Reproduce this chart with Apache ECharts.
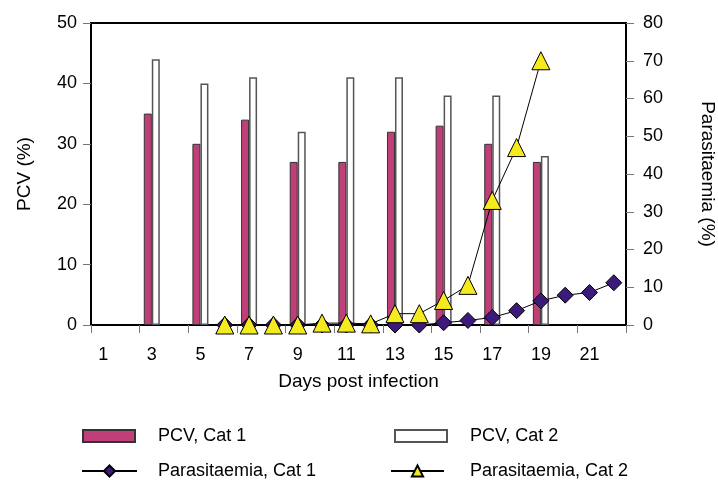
<!DOCTYPE html>
<html>
<head>
<meta charset="utf-8">
<script src="https://cdn.jsdelivr.net/npm/echarts@6/dist/echarts.min.js"></script>
<style>
  html, body { margin: 0; padding: 0; background: #fff; }
  #chart { width: 718px; height: 480px; }
</style>
</head>
<body>
<div id="chart"></div>
<script>
// days post infection (category axis)
const days = ['1','2','3','4','5','6','7','8','9','10','11','12','13','14','15','16','17','18','19','20','21','22'];

// PCV (%) - measured every other day
const pcvCat1 = [null,null,35,null,30,null,34,null,27,null,27,null,32,null,33,null,30,null,27,null,null,null];
const pcvCat2 = [null,null,44,null,40,null,41,null,32,null,41,null,41,null,38,null,38,null,28,null,null,null];

// Parasitaemia (%)
const parCat1 = [null,null,null,null,null,0,0,0,0,0,0,0,0,0,0.6,1.2,2,3.8,6.4,7.9,8.6,11.2];
const parCat2 = [null,null,null,null,null,0,0,0,0,0.5,0.5,0.3,3,3,6.5,10.5,33,47,70,null,null,null];

const pcvTicks = { min: 0, max: 50, interval: 10 };
const parTicks = { min: 0, max: 80, interval: 10 };

const FONT = '"Liberation Sans", Arial, sans-serif';

const chart = echarts.init(document.getElementById('chart'));

const axisLineStyle = { show: true, lineStyle: { color: '#000', width: 2 } };
const tickStyle = { show: true, length: 8, lineStyle: { color: '#777', width: 1 } };

function legendAt(name, left, top, w, h, pad, icon) {
  const lg = {
    data: [name],
    left: left,
    top: top,
    padding: 0,
    itemWidth: w,
    itemHeight: h,
    textStyle: { fontFamily: FONT, fontSize: 18, color: '#000', padding: [0, 0, 0, pad] },
    selectedMode: false
  };
  if (icon) lg.icon = icon;
  return lg;
}

chart.setOption({
  animation: false,
  grid: {
    left: 91, right: 92, top: 23, bottom: 155,
    outerBoundsMode: 'none',
    containLabel: false,
    show: true, borderColor: '#000', borderWidth: 2
  },
  legend: [
    legendAt('PCV, Cat 1', 82, 427, 52, 12, 18, 'rect'),
    legendAt('PCV, Cat 2', 394, 427, 52, 12, 18, 'rect'),
    legendAt('Parasitaemia, Cat 1', 81, 462, 55, 14, 16),
    legendAt('Parasitaemia, Cat 2', 390, 462, 53, 14, 21)
  ],
  xAxis: {
    type: 'category',
    data: days,
    name: 'Days post infection',
    nameLocation: 'middle',
    nameGap: 47,
    nameTextStyle: { fontFamily: FONT, fontSize: 19, color: '#000' },
    axisLine: axisLineStyle,
    axisTick: tickStyle,
    axisLabel: { interval: 1, margin: 21, fontFamily: FONT, fontSize: 18, color: '#000' },
    splitLine: { show: false }
  },
  yAxis: [
    {
      type: 'value',
      min: pcvTicks.min, max: pcvTicks.max, interval: pcvTicks.interval,
      name: 'PCV (%)',
      nameLocation: 'middle',
      nameGap: 57,
      nameTextStyle: { fontFamily: FONT, fontSize: 19, color: '#000' },
      axisLine: axisLineStyle,
      axisTick: tickStyle,
      axisLabel: { margin: 14, fontFamily: FONT, fontSize: 18, color: '#000' },
      splitLine: { show: false }
    },
    {
      type: 'value',
      position: 'right',
      min: parTicks.min, max: parTicks.max, interval: parTicks.interval,
      name: 'Parasitaemia (%)',
      nameLocation: 'middle',
      nameRotate: -90,
      nameGap: 72,
      nameTextStyle: { fontFamily: FONT, fontSize: 19, color: '#000' },
      axisLine: axisLineStyle,
      axisTick: tickStyle,
      axisLabel: { margin: 17, fontFamily: FONT, fontSize: 18, color: '#000' },
      splitLine: { show: false }
    }
  ],
  series: [
    {
      name: 'PCV, Cat 1',
      type: 'bar',
      data: pcvCat1,
      barWidth: 8,
      barGap: '0%',
      itemStyle: { color: '#C13F78', borderColor: '#333', borderWidth: 1 }
    },
    {
      name: 'PCV, Cat 2',
      type: 'bar',
      data: pcvCat2,
      barWidth: 8,
      barGap: '0%',
      itemStyle: { color: '#fff', borderColor: '#555', borderWidth: 1.5 }
    },
    {
      name: 'Parasitaemia, Cat 1',
      type: 'line',
      yAxisIndex: 1,
      data: parCat1,
      symbol: 'diamond',
      symbolSize: 16,
      showAllSymbol: true,
      z: 3,
      lineStyle: { color: '#000', width: 1 },
      itemStyle: { color: '#3B1A7A', borderColor: '#000', borderWidth: 1 }
    },
    {
      name: 'Parasitaemia, Cat 2',
      type: 'line',
      yAxisIndex: 1,
      data: parCat2,
      symbol: 'triangle',
      symbolSize: 18,
      showAllSymbol: true,
      z: 4,
      lineStyle: { color: '#000', width: 1 },
      itemStyle: { color: '#F4EA1E', borderColor: '#000', borderWidth: 1 }
    }
  ]
});
</script>
</body>
</html>
